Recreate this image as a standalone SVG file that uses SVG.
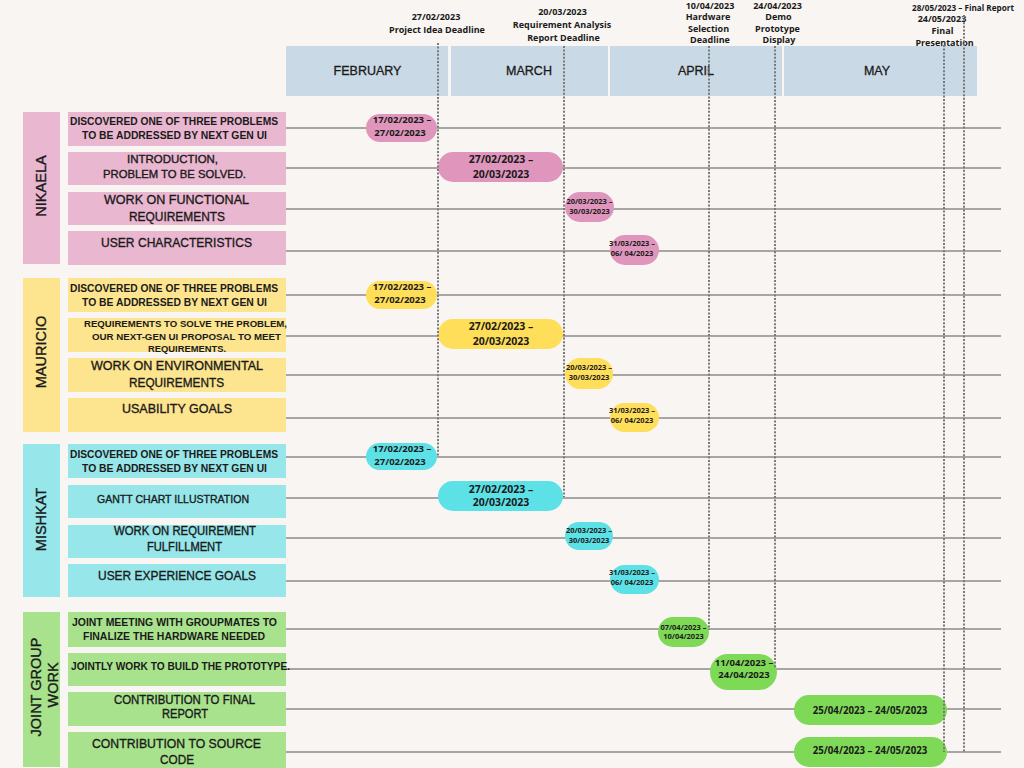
<svg xmlns="http://www.w3.org/2000/svg" width="1024" height="768" viewBox="0 0 1024 768">
<style>
.bg{fill:#f8f5f2}
.band{fill:#c9d9e6}
.grid{stroke:#8c8c8c;stroke-width:1.3;fill:none}
.dl{stroke:#7a7a7a;stroke-width:2;stroke-dasharray:2 1.6;fill:none}
.hd{font-family:"Open Sans","Liberation Sans",sans-serif;font-weight:700;font-size:9px;fill:#1a1a1a;text-anchor:middle}
.mo{font-family:"Liberation Sans",Arial,sans-serif;font-size:12.5px;fill:#1a1a1a;stroke:#1a1a1a;stroke-width:0.3;text-anchor:middle}
.tb{font-family:"Liberation Sans",Arial,sans-serif;font-weight:700;fill:#1a1a1a;text-anchor:middle}
.tm{font-family:"Liberation Sans",Arial,sans-serif;font-weight:400;fill:#1a1a1a;stroke:#1a1a1a;stroke-width:0.35;text-anchor:middle}
.gl{font-family:"Liberation Sans",Arial,sans-serif;font-size:14.5px;fill:#1a1a1a;stroke:#1a1a1a;stroke-width:0.35;text-anchor:middle}
.pd{font-family:"Open Sans","Liberation Sans",sans-serif;font-weight:700;fill:#1a1a1a;text-anchor:middle}
.nk{fill:#e9b7cf}.nkp{fill:#e096bc}
.mr{fill:#fde48e}.mrp{fill:#ffde59}
.ms{fill:#96e6ea}.msp{fill:#5ce1e6}
.jg{fill:#a8e28c}.jgp{fill:#7ed957}
</style>
<rect class="bg" x="0" y="0" width="1024" height="768"/>

<g id="timeline-header">
<rect class="band" x="286" y="46" width="162" height="50"/>
<rect class="band" x="451" y="46" width="157" height="50"/>
<rect class="band" x="610" y="46" width="172" height="50"/>
<rect class="band" x="784" y="46" width="193" height="50"/>
<text class="mo" x="367.5" y="75">FEBRUARY</text>
<text class="mo" x="529" y="75">MARCH</text>
<text class="mo" x="696" y="75">APRIL</text>
<text class="mo" x="877" y="75">MAY</text>
</g>

<g id="milestone-labels">
<text class="hd" x="436" y="20">27/02/2023</text>
<text class="hd" x="437" y="33">Project Idea Deadline</text>
<text class="hd" x="562.5" y="15">20/03/2023</text>
<text class="hd" x="562" y="28">Requirement Analysis</text>
<text class="hd" x="563.5" y="41">Report Deadline</text>
<text class="hd" x="710" y="9">10/04/2023</text>
<text class="hd" x="708" y="20">Hardware</text>
<text class="hd" x="708.5" y="31.5">Selection</text>
<text class="hd" x="710" y="42.5">Deadline</text>
<text class="hd" x="777.5" y="9">24/04/2023</text>
<text class="hd" x="778.5" y="20">Demo</text>
<text class="hd" x="777.5" y="31.5">Prototype</text>
<text class="hd" x="779" y="42.5">Display</text>
<text class="hd" x="963" y="11" textLength="102" lengthAdjust="spacingAndGlyphs">28/05/2023 – Final Report</text>
<text class="hd" x="942" y="22">24/05/2023</text>
<text class="hd" x="942.5" y="34">Final</text>
<text class="hd" x="944.5" y="45.5">Presentation</text>
</g>

<g id="connectors">
<path class="grid" d="M286 128H1001M286 168H1001M286 209H1001M286 251H1001M286 295H1001M286 336H1001M286 375H1001M286 418H1001M286 457H1001M286 498H1001M286 538H1001M286 581H1001M286 629H1001M286 669H1001M286 709H1001M286 752H1001"/>
</g>

<g id="nikaela">
<rect class="nk" x="23" y="112" width="37" height="152"/>
<text class="gl" transform="translate(46 186) rotate(-90)">NIKAELA</text>
<g id="nikaela-task1">
<rect class="nk" x="68" y="112" width="218" height="34"/>
<text class="tb" font-size="10" x="174" y="125" textLength="208" lengthAdjust="spacingAndGlyphs">DISCOVERED ONE OF THREE PROBLEMS</text>
<text class="tb" font-size="10" x="174.5" y="139" textLength="185" lengthAdjust="spacingAndGlyphs">TO BE ADDRESSED BY NEXT GEN UI</text>
<rect class="nkp" x="366" y="114" width="71" height="28" rx="14"/>
<text class="pd" font-size="9.5" x="402" y="123">17/02/2023 –</text>
<text class="pd" font-size="9.5" x="400" y="136">27/02/2023</text>
</g>
<g id="nikaela-task2">
<rect class="nk" x="68" y="152" width="218" height="33"/>
<text class="tm" font-size="11" x="172.5" y="163" textLength="91" lengthAdjust="spacingAndGlyphs">INTRODUCTION,</text>
<text class="tm" font-size="11" x="174.5" y="178" textLength="143" lengthAdjust="spacingAndGlyphs">PROBLEM TO BE SOLVED.</text>
<rect class="nkp" x="438" y="152" width="125" height="30" rx="15"/>
<text class="pd" font-size="10.5" x="501" y="163">27/02/2023 –</text>
<text class="pd" font-size="10.5" x="501" y="178">20/03/2023</text>
</g>
<g id="nikaela-task3">
<rect class="nk" x="68" y="192" width="218" height="33"/>
<text class="tm" font-size="13" x="176.5" y="204" textLength="145" lengthAdjust="spacingAndGlyphs">WORK ON FUNCTIONAL</text>
<text class="tm" font-size="13" x="177" y="221" textLength="96" lengthAdjust="spacingAndGlyphs">REQUIREMENTS</text>
<rect class="nkp" x="565" y="192" width="49" height="30" rx="15"/>
<text class="pd" font-size="7.5" x="589.5" y="204">20/03/2023 –</text>
<text class="pd" font-size="7.5" x="589.5" y="214">30/03/2023</text>
</g>
<g id="nikaela-task4">
<rect class="nk" x="68" y="231" width="218" height="34"/>
<text class="tm" font-size="13" x="176.5" y="247" textLength="151" lengthAdjust="spacingAndGlyphs">USER CHARACTERISTICS</text>
<rect class="nkp" x="610" y="235" width="49" height="30" rx="15"/>
<text class="pd" font-size="7.5" x="632" y="246">31/03/2023 –</text>
<text class="pd" font-size="7.5" x="632" y="256">06/ 04/2023</text>
</g>
</g>

<g id="mauricio">
<rect class="mr" x="23" y="278" width="37" height="154"/>
<text class="gl" transform="translate(46 352) rotate(-90)">MAURICIO</text>
<g id="mauricio-task1">
<rect class="mr" x="68" y="278" width="218" height="34"/>
<text class="tb" font-size="10" x="174" y="292" textLength="208" lengthAdjust="spacingAndGlyphs">DISCOVERED ONE OF THREE PROBLEMS</text>
<text class="tb" font-size="10" x="174.5" y="306" textLength="185" lengthAdjust="spacingAndGlyphs">TO BE ADDRESSED BY NEXT GEN UI</text>
<rect class="mrp" x="366" y="281" width="71" height="28" rx="14"/>
<text class="pd" font-size="9.5" x="402" y="290">17/02/2023 –</text>
<text class="pd" font-size="9.5" x="400" y="303">27/02/2023</text>
</g>
<g id="mauricio-task2">
<rect class="mr" x="68" y="318" width="218" height="34"/>
<text class="tb" font-size="9" x="185.5" y="327" textLength="203" lengthAdjust="spacingAndGlyphs">REQUIREMENTS TO SOLVE THE PROBLEM,</text>
<text class="tb" font-size="9" x="186.5" y="339.5" textLength="189" lengthAdjust="spacingAndGlyphs">OUR NEXT-GEN UI PROPOSAL TO MEET</text>
<text class="tb" font-size="9" x="187" y="352" textLength="78" lengthAdjust="spacingAndGlyphs">REQUIREMENTS.</text>
<rect class="mrp" x="438" y="319" width="125" height="30" rx="15"/>
<text class="pd" font-size="10.5" x="501" y="330">27/02/2023 –</text>
<text class="pd" font-size="10.5" x="501" y="345">20/03/2023</text>
</g>
<g id="mauricio-task3">
<rect class="mr" x="68" y="358" width="218" height="34"/>
<text class="tm" font-size="13" x="177" y="370" textLength="172" lengthAdjust="spacingAndGlyphs">WORK ON ENVIRONMENTAL</text>
<text class="tm" font-size="13" x="176.5" y="387" textLength="95" lengthAdjust="spacingAndGlyphs">REQUIREMENTS</text>
<rect class="mrp" x="565" y="358" width="48" height="31" rx="15.5"/>
<text class="pd" font-size="7.5" x="589" y="369.5">20/03/2023 –</text>
<text class="pd" font-size="7.5" x="589" y="380">30/03/2023</text>
</g>
<g id="mauricio-task4">
<rect class="mr" x="68" y="398" width="218" height="34"/>
<text class="tm" font-size="13" x="177" y="413" textLength="110" lengthAdjust="spacingAndGlyphs">USABILITY GOALS</text>
<rect class="mrp" x="610" y="403" width="49" height="29" rx="14.5"/>
<text class="pd" font-size="7.5" x="632" y="413">31/03/2023 –</text>
<text class="pd" font-size="7.5" x="632" y="422.5">06/ 04/2023</text>
</g>
</g>

<g id="mishkat">
<rect class="ms" x="23" y="444" width="37" height="153"/>
<text class="gl" transform="translate(46 519.5) rotate(-90)">MISHKAT</text>
<g id="mishkat-task1">
<rect class="ms" x="68" y="444" width="218" height="34"/>
<text class="tb" font-size="10" x="174" y="458" textLength="208" lengthAdjust="spacingAndGlyphs">DISCOVERED ONE OF THREE PROBLEMS</text>
<text class="tb" font-size="10" x="174.5" y="472" textLength="185" lengthAdjust="spacingAndGlyphs">TO BE ADDRESSED BY NEXT GEN UI</text>
<rect class="msp" x="366" y="443" width="71" height="27" rx="13.5"/>
<text class="pd" font-size="9.5" x="402" y="452">17/02/2023 –</text>
<text class="pd" font-size="9.5" x="400" y="465">27/02/2023</text>
</g>
<g id="mishkat-task2">
<rect class="ms" x="68" y="485" width="218" height="33"/>
<text class="tm" font-size="11" x="173" y="503" textLength="152" lengthAdjust="spacingAndGlyphs">GANTT CHART ILLUSTRATION</text>
<rect class="msp" x="438" y="481" width="125" height="30" rx="15"/>
<text class="pd" font-size="10.5" x="501" y="493">27/02/2023 –</text>
<text class="pd" font-size="10.5" x="501" y="506">20/03/2023</text>
</g>
<g id="mishkat-task3">
<rect class="ms" x="68" y="525" width="218" height="33"/>
<text class="tm" font-size="12" x="185" y="535" textLength="142" lengthAdjust="spacingAndGlyphs">WORK ON REQUIREMENT</text>
<text class="tm" font-size="12" x="184.5" y="551" textLength="75" lengthAdjust="spacingAndGlyphs">FULFILLMENT</text>
<rect class="msp" x="565" y="522" width="48" height="28" rx="14"/>
<text class="pd" font-size="7.5" x="589" y="533">20/03/2023 –</text>
<text class="pd" font-size="7.5" x="589" y="543">30/03/2023</text>
</g>
<g id="mishkat-task4">
<rect class="ms" x="68" y="564" width="218" height="33"/>
<text class="tm" font-size="13" x="177" y="580" textLength="158" lengthAdjust="spacingAndGlyphs">USER EXPERIENCE GOALS</text>
<rect class="msp" x="610" y="565" width="49" height="29" rx="14.5"/>
<text class="pd" font-size="7.5" x="632" y="575">31/03/2023 –</text>
<text class="pd" font-size="7.5" x="632" y="585">06/ 04/2023</text>
</g>
</g>

<g id="joint-group-work">
<rect class="jg" x="23" y="612" width="37" height="155"/>
<text class="gl" transform="translate(41 687) rotate(-90)">JOINT GROUP</text>
<text class="gl" transform="translate(58 685) rotate(-90)">WORK</text>
<g id="joint-task1">
<rect class="jg" x="68" y="612" width="218" height="35"/>
<text class="tb" font-size="10" x="174.5" y="626" textLength="205" lengthAdjust="spacingAndGlyphs">JOINT MEETING WITH GROUPMATES TO</text>
<text class="tb" font-size="10" x="174" y="640" textLength="182" lengthAdjust="spacingAndGlyphs">FINALIZE THE HARDWARE NEEDED</text>
<rect class="jgp" x="658" y="617" width="51" height="30" rx="15"/>
<text class="pd" font-size="7.5" x="683.5" y="630">07/04/2023 –</text>
<text class="pd" font-size="7.5" x="683.5" y="639">10/04/2023</text>
</g>
<g id="joint-task2">
<rect class="jg" x="68" y="653" width="218" height="33"/>
<text class="tb" font-size="10" x="180.5" y="670" textLength="219" lengthAdjust="spacingAndGlyphs">JOINTLY WORK TO BUILD THE PROTOTYPE.</text>
<rect class="jgp" x="710" y="654" width="67" height="36" rx="18"/>
<text class="pd" font-size="9.5" x="744" y="666">11/04/2023 –</text>
<text class="pd" font-size="9.5" x="744" y="678">24/04/2023</text>
</g>
<g id="joint-task3">
<rect class="jg" x="68" y="692" width="218" height="34"/>
<text class="tm" font-size="12" x="184.5" y="704" textLength="141" lengthAdjust="spacingAndGlyphs">CONTRIBUTION TO FINAL</text>
<text class="tm" font-size="12" x="185" y="718" textLength="46" lengthAdjust="spacingAndGlyphs">REPORT</text>
<rect class="jgp" x="794" y="695" width="153" height="30" rx="15"/>
<text class="pd" font-size="9.7" x="870" y="714">25/04/2023 – 24/05/2023</text>
</g>
<g id="joint-task4">
<rect class="jg" x="68" y="732" width="218" height="36"/>
<text class="tm" font-size="13" x="176.5" y="748" textLength="169" lengthAdjust="spacingAndGlyphs">CONTRIBUTION TO SOURCE</text>
<text class="tm" font-size="13" x="177" y="764" textLength="34" lengthAdjust="spacingAndGlyphs">CODE</text>
<rect class="jgp" x="794" y="737" width="153" height="30" rx="15"/>
<text class="pd" font-size="9.7" x="870" y="754">25/04/2023 – 24/05/2023</text>
</g>
</g>

<g id="deadline-lines">
<path class="dl" d="M438 43V456"/>
<path class="dl" d="M564 46V497"/>
<path class="dl" d="M709 46V630"/>
<path class="dl" d="M775 46V668"/>
<path class="dl" d="M944 45V752"/>
<path class="dl" d="M964 15V753"/>
</g>
</svg>
